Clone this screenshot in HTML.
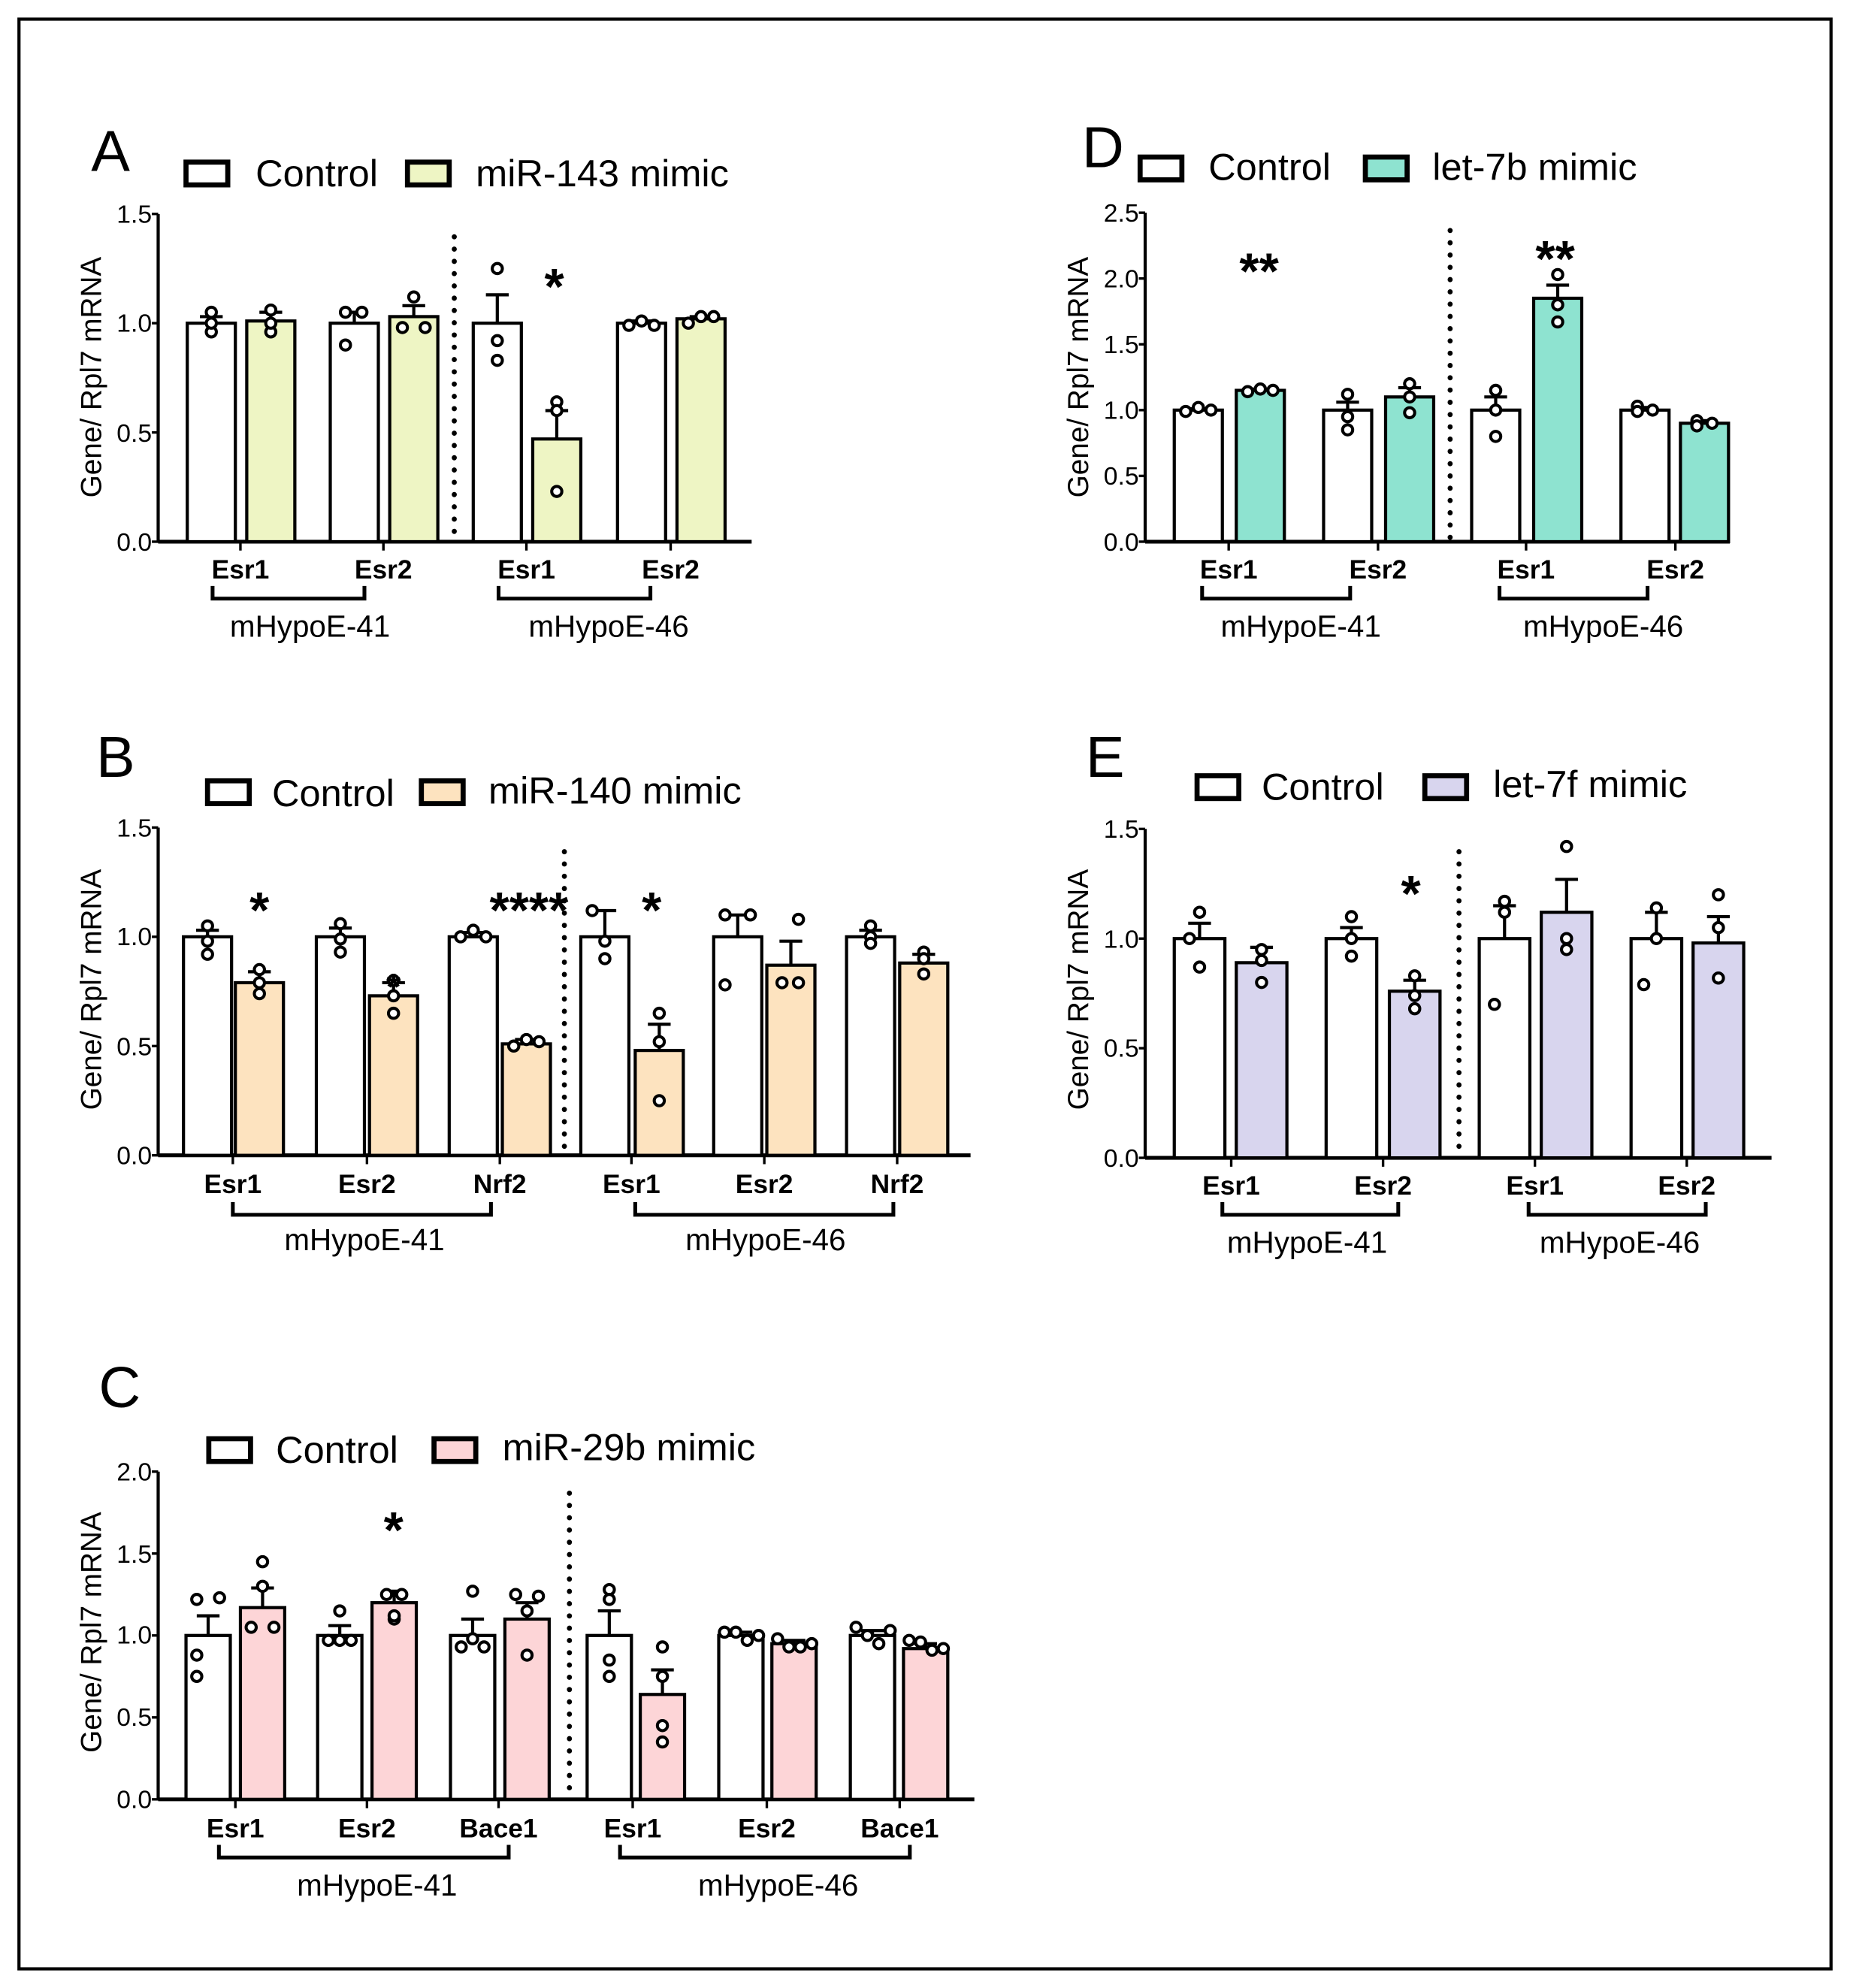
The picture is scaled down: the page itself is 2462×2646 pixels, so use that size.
<!DOCTYPE html>
<html><head><meta charset="utf-8"><style>
html,body{margin:0;padding:0;background:#fff}
svg{display:block}
text{font-family:"Liberation Sans",sans-serif;fill:#000}
.t{font-size:20px}
.c{font-size:21px;font-weight:bold}
.g{font-size:24px}
.y{font-size:23px}
.L{font-size:30px}
.P{font-size:46px}
.s{font-size:40px;font-weight:bold}
</style></head><body>
<svg id="s" width="2462" height="2646" viewBox="0 0 1462 1571" xmlns="http://www.w3.org/2000/svg">
<rect x="15" y="15" width="1432" height="1541" fill="none" stroke="#000" stroke-width="2.5"/>
<g id="g"></g>
<!-- Panel A text -->
<text class="P" x="72" y="135">A</text>
<text class="L" x="202" y="147">Control</text><text class="L" x="376" y="147">miR-143 mimic</text>
<text class="y" transform="translate(80,298) rotate(-90)" text-anchor="middle">Gene/ Rpl7 mRNA</text>
<text class="t" x="120" y="435" text-anchor="end">0.0</text><text class="t" x="120" y="349" text-anchor="end">0.5</text><text class="t" x="120" y="262" text-anchor="end">1.0</text><text class="t" x="120" y="176" text-anchor="end">1.5</text>
<text class="c" x="190" y="457" text-anchor="middle">Esr1</text><text class="c" x="303" y="457" text-anchor="middle">Esr2</text><text class="c" x="416" y="457" text-anchor="middle">Esr1</text><text class="c" x="530" y="457" text-anchor="middle">Esr2</text>
<text class="g" x="245" y="503" text-anchor="middle">mHypoE-41</text><text class="g" x="481" y="503" text-anchor="middle">mHypoE-46</text>
<text class="s" x="438" y="240" text-anchor="middle">*</text>
<!-- Panel B -->
<text class="P" x="76" y="614">B</text>
<text class="L" x="215" y="637">Control</text><text class="L" x="386" y="635">miR-140 mimic</text>
<text class="y" transform="translate(80,782) rotate(-90)" text-anchor="middle">Gene/ Rpl7 mRNA</text>
<text class="t" x="120" y="920" text-anchor="end">0.0</text><text class="t" x="120" y="834" text-anchor="end">0.5</text><text class="t" x="120" y="747" text-anchor="end">1.0</text><text class="t" x="120" y="661" text-anchor="end">1.5</text>
<text class="c" x="184" y="943" text-anchor="middle">Esr1</text><text class="c" x="290" y="943" text-anchor="middle">Esr2</text><text class="c" x="395" y="943" text-anchor="middle">Nrf2</text><text class="c" x="499" y="943" text-anchor="middle">Esr1</text><text class="c" x="604" y="943" text-anchor="middle">Esr2</text><text class="c" x="709" y="943" text-anchor="middle">Nrf2</text>
<text class="g" x="288" y="988" text-anchor="middle">mHypoE-41</text><text class="g" x="605" y="988" text-anchor="middle">mHypoE-46</text>
<text class="s" x="205" y="733" text-anchor="middle">*</text>
<text class="s" x="311" y="790" text-anchor="middle" style="font-size:30px">*</text>
<text class="s" x="418" y="733" text-anchor="middle">****</text>
<text class="s" x="515" y="733" text-anchor="middle">*</text>
<!-- Panel C -->
<text class="P" x="78" y="1112">C</text>
<text class="L" x="218" y="1156">Control</text><text class="L" x="397" y="1154">miR-29b mimic</text>
<text class="y" transform="translate(80,1290) rotate(-90)" text-anchor="middle">Gene/ Rpl7 mRNA</text>
<text class="t" x="120" y="1429" text-anchor="end">0.0</text><text class="t" x="120" y="1364" text-anchor="end">0.5</text><text class="t" x="120" y="1299" text-anchor="end">1.0</text><text class="t" x="120" y="1235" text-anchor="end">1.5</text><text class="t" x="120" y="1170" text-anchor="end">2.0</text>
<text class="c" x="186" y="1452" text-anchor="middle">Esr1</text><text class="c" x="290" y="1452" text-anchor="middle">Esr2</text><text class="c" x="394" y="1452" text-anchor="middle">Bace1</text><text class="c" x="500" y="1452" text-anchor="middle">Esr1</text><text class="c" x="606" y="1452" text-anchor="middle">Esr2</text><text class="c" x="711" y="1452" text-anchor="middle">Bace1</text>
<text class="g" x="298" y="1498" text-anchor="middle">mHypoE-41</text><text class="g" x="615" y="1498" text-anchor="middle">mHypoE-46</text>
<text class="s" x="311" y="1223" text-anchor="middle">*</text>
<!-- Panel D -->
<text class="P" x="855" y="132">D</text>
<text class="L" x="955" y="142">Control</text><text class="L" x="1132" y="142">let-7b mimic</text>
<text class="y" transform="translate(860,298) rotate(-90)" text-anchor="middle">Gene/ Rpl7 mRNA</text>
<text class="t" x="900" y="435" text-anchor="end">0.0</text><text class="t" x="900" y="383" text-anchor="end">0.5</text><text class="t" x="900" y="331" text-anchor="end">1.0</text><text class="t" x="900" y="279" text-anchor="end">1.5</text><text class="t" x="900" y="227" text-anchor="end">2.0</text><text class="t" x="900" y="175" text-anchor="end">2.5</text>
<text class="c" x="971" y="457" text-anchor="middle">Esr1</text><text class="c" x="1089" y="457" text-anchor="middle">Esr2</text><text class="c" x="1206" y="457" text-anchor="middle">Esr1</text><text class="c" x="1324" y="457" text-anchor="middle">Esr2</text>
<text class="g" x="1028" y="503" text-anchor="middle">mHypoE-41</text><text class="g" x="1267" y="503" text-anchor="middle">mHypoE-46</text>
<text class="s" x="995" y="228" text-anchor="middle">**</text>
<text class="s" x="1229" y="218" text-anchor="middle">**</text>
<!-- Panel E -->
<text class="P" x="858" y="614">E</text>
<text class="L" x="997" y="632">Control</text><text class="L" x="1180" y="630">let-7f mimic</text>
<text class="y" transform="translate(860,782) rotate(-90)" text-anchor="middle">Gene/ Rpl7 mRNA</text>
<text class="t" x="900" y="922" text-anchor="end">0.0</text><text class="t" x="900" y="835" text-anchor="end">0.5</text><text class="t" x="900" y="749" text-anchor="end">1.0</text><text class="t" x="900" y="662" text-anchor="end">1.5</text>
<text class="c" x="973" y="944" text-anchor="middle">Esr1</text><text class="c" x="1093" y="944" text-anchor="middle">Esr2</text><text class="c" x="1213" y="944" text-anchor="middle">Esr1</text><text class="c" x="1333" y="944" text-anchor="middle">Esr2</text>
<text class="g" x="1033" y="990" text-anchor="middle">mHypoE-41</text><text class="g" x="1280" y="990" text-anchor="middle">mHypoE-46</text>
<text class="s" x="1115" y="720" text-anchor="middle">*</text>
</svg>
<script>
var NS="http://www.w3.org/2000/svg",G=document.getElementById("g");
function el(n,a){var e=document.createElementNS(NS,n);for(var k in a)e.setAttribute(k,a[k]);G.appendChild(e);return e}
function panel(p){
 var y0=p.y0,u=p.u;
 el("line",{x1:p.ax,y1:y0,x2:p.ax,y2:p.ytop,stroke:"#000","stroke-width":2.5});
 p.ticks.forEach(function(v){el("line",{x1:p.ax-5,y1:y0-v*u,x2:p.ax,y2:y0-v*u,stroke:"#000","stroke-width":2})});
 el("line",{x1:p.ax,y1:y0,x2:p.xe,y2:y0,stroke:"#000","stroke-width":3});
 p.cats.forEach(function(x){el("line",{x1:x,y1:y0,x2:x,y2:y0+7,stroke:"#000","stroke-width":2})});
 el("line",{x1:p.dot,y1:p.dtop,x2:p.dot,y2:y0,stroke:"#000","stroke-width":4,"stroke-dasharray":"0.1 9.6","stroke-linecap":"round"});
 p.br.forEach(function(b){el("path",{d:"M"+b[0]+" "+(p.by-10)+"V"+p.by+"H"+b[1]+"V"+(p.by-10),fill:"none",stroke:"#000","stroke-width":3})});
 el("rect",{x:p.lg[0],y:p.lg[2],width:33,height:18,fill:"#fff",stroke:"#000","stroke-width":4});
 el("rect",{x:p.lg[1],y:p.lg[2],width:33,height:18,fill:p.col,stroke:"#000","stroke-width":4});
 p.bars.forEach(function(b,i){
  var x=b[0],w=p.w,m=b[1],s=b[2],pts=b[3],f=(i%2)?p.col:"#fff",top=y0-m*u;
  el("rect",{x:x,y:top,width:w,height:m*u,fill:f,stroke:"#000","stroke-width":2.5});
  var cx=x+w/2;
  if(s>0){el("line",{x1:cx,y1:top,x2:cx,y2:top-s*u,stroke:"#000","stroke-width":2.5});
   el("line",{x1:cx-9,y1:top-s*u,x2:cx+9,y2:top-s*u,stroke:"#000","stroke-width":2.5});}
  var n=pts.length;
  pts.forEach(function(v,j){var dx=(n==3?[-10,0,10]:[-13,-4,5,14])[j];
   if(b[4])dx=b[4][j];
   el("circle",{cx:cx+dx,cy:y0-v*u,r:4,fill:"#fff",stroke:"#000","stroke-width":2.4})});
 });
}
panel({ax:125,y0:428,u:172.7,ytop:169,ticks:[0,.5,1,1.5],xe:594,cats:[190,303,416,530],dot:359,dtop:187,by:473,br:[[168,288],[394,514]],lg:[147,322,128],col:"#eef5c4",w:38,
 bars:[[148,1,.03,[.96,1.05,1.0],[0,0,0]],[195,1.01,.04,[.96,1.06,1.0],[0,0,0]],[261,1,.05,[1.05,.9,1.05],[-7,-7,6]],[308,1.03,.05,[.98,1.12,.98],[-9,0,9]],
 [374,1,.13,[1.25,.92,.83],[0,0,0]],[421,.47,.13,[.64,.6,.23],[0,0,0]],[488,1,.01,[.99,1.01,.99]],[535,1.02,.01,[1.0,1.03,1.03]]]});
panel({ax:125,y0:913,u:172.7,ytop:654,ticks:[0,.5,1,1.5],xe:767,cats:[184,290,395,499,604,709],dot:446,dtop:673,by:960,br:[[184,388],[502,706]],lg:[164,333,617],col:"#fde3bf",w:38,
 bars:[[145,1,.03,[.98,1.05,.92],[0,0,0]],[186,.79,.05,[.79,.85,.74],[0,0,0]],[250,1,.04,[.99,1.06,.93],[0,0,0]],[292,.73,.06,[.73,.8,.65],[0,0,0]],[355,1,.02,[1.0,1.03,1.0]],[397,.51,.02,[.5,.53,.52]],
 [459,1,.12,[1.12,.98,.9],[-10,0,0]],[502,.48,.12,[.65,.52,.25],[0,0,0]],[564,1,.1,[1.1,1.1,.78],[-10,10,-10]],[606,.87,.11,[1.08,.79,.79],[6,-7,6]],[669,1,.03,[1.05,1,.97],[0,0,0]],[711,.88,.04,[.93,.9,.83],[0,0,0]]]});
panel({ax:125,y0:1422,u:129.5,ytop:1163,ticks:[0,.5,1,1.5,2],xe:770,cats:[186,290,394,500,606,711],dot:450,dtop:1180,by:1468,br:[[173,402],[490,719]],lg:[165,343,1137],col:"#fdd5d7",w:35,
 bars:[[147,1,.12,[1.22,1.23,.88,.75],[-9,9,-9,-9]],[190,1.17,.12,[1.45,1.3,1.05,1.05],[0,0,-9,9]],[251,1,.06,[1.15,.97,.97,.97],[0,-9,0,9]],[294,1.2,.07,[1.25,1.25,1.1,1.12],[-6,6,0,0]],[356,1,.1,[1.27,.98,.93,.93],[0,0,-9,9]],[399,1.1,.1,[1.25,1.24,1.15,.88],[-9,9,0,0]],
 [464,1,.15,[1.28,1.22,.85,.75],[0,0,0,0]],[506,.64,.15,[.93,.75,.45,.35],[0,0,0,0]],[568,1,.02,[1.02,1.02,.97,1.0]],[610,.95,.02,[.98,.93,.93,.95]],[672,1,.03,[1.05,1.0,.95,1.03]],[714,.92,.03,[.97,.96,.91,.92]]]});
panel({ax:905,y0:428,u:104,ytop:168,ticks:[0,.5,1,1.5,2,2.5],xe:1367,cats:[971,1089,1206,1324],dot:1146,dtop:182,by:473,br:[[950,1067],[1185,1302]],lg:[901,1079,124],col:"#8ee3d0",w:38,
 bars:[[928,1,.01,[.99,1.02,1.0]],[977,1.15,.01,[1.14,1.16,1.15]],[1046,1,.06,[1.12,.95,.85],[0,0,0]],[1095,1.1,.07,[1.2,1.1,.98],[0,0,0]],[1163,1,.1,[1.15,1.0,.8],[0,0,0]],[1212,1.85,.1,[2.03,1.8,1.67],[0,0,0]],[1281,1,.02,[1.03,.99,1.0],[-6,-6,6]],[1328,.9,.02,[.92,.9,.88],[-6,6,-6]]]});
panel({ax:905,y0:915,u:173.3,ytop:655,ticks:[0,.5,1,1.5],xe:1400,cats:[973,1093,1213,1333],dot:1153,dtop:673,by:960,br:[[966,1105],[1208,1348]],lg:[946,1126,613],col:"#d8d5ee",w:40,
 bars:[[928,1,.07,[1.12,1.0,.87],[0,-8,0]],[977,.89,.07,[.95,.9,.8],[0,0,0]],[1048,1,.05,[1.1,1.0,.92],[0,0,0]],[1098,.76,.05,[.83,.74,.68],[0,0,0]],[1169,1,.15,[1.17,1.12,.7],[0,0,-8]],[1218,1.12,.15,[1.42,1.0,.95],[0,0,0]],[1289,1,.12,[1.14,1.0,.79],[0,0,-10]],[1338,.98,.12,[1.2,1.05,.82],[0,0,0]]]});
</script>
</body></html>
